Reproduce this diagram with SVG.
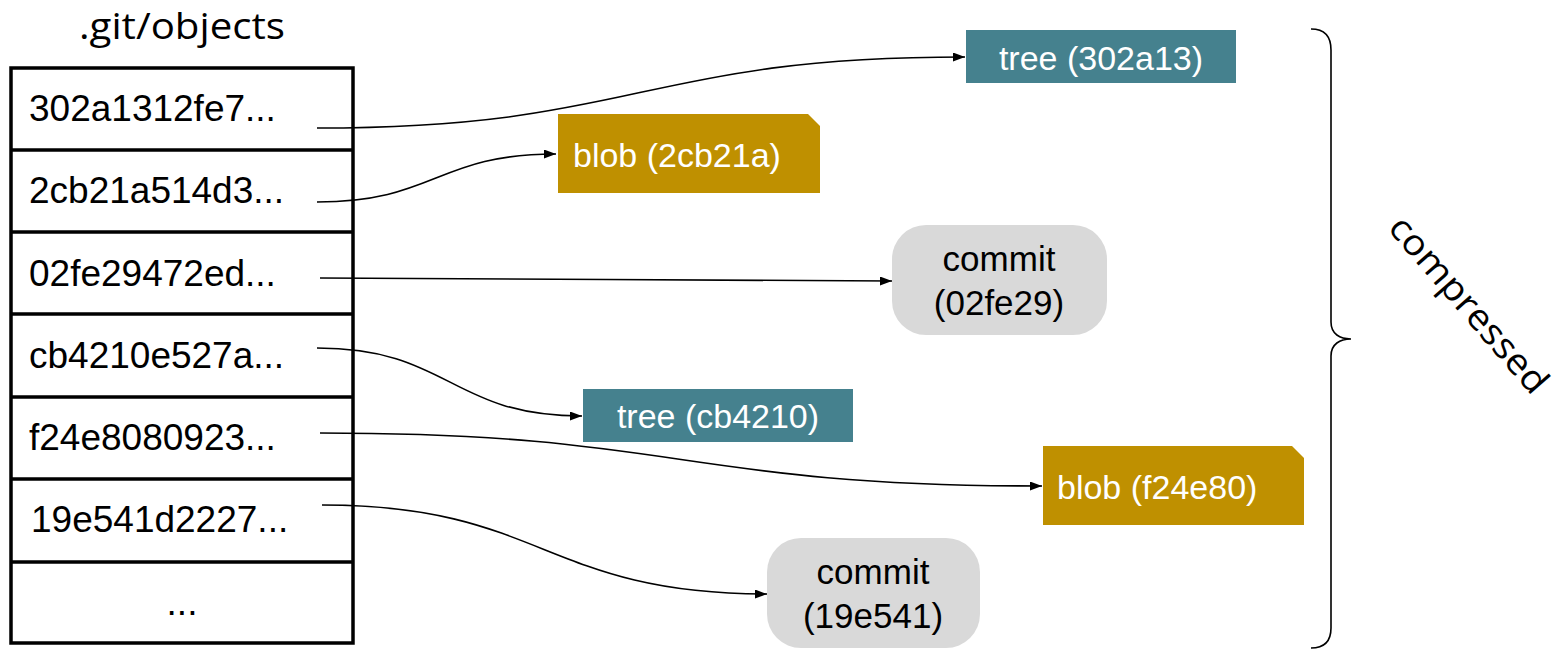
<svg xmlns="http://www.w3.org/2000/svg" width="1558" height="649" viewBox="0 0 1558 649">
<style>
.title{font-family:"Open Sans","Liberation Sans",sans-serif;font-size:36px;fill:#000}
.row{font-family:"Liberation Sans",Arial,sans-serif;font-size:37px;fill:#000}
.lbl{font-family:"Liberation Sans",Arial,sans-serif;font-size:34px;fill:#fff}
.clbl{font-family:"Liberation Sans",Arial,sans-serif;font-size:35px;fill:#000;text-anchor:middle}
.tree{fill:#45818e}
.blob{fill:#bf9000}
.commit{fill:#d9d9d9}
.conn{fill:none;stroke:#000;stroke-width:1.6;marker-end:url(#arr)}
.tbl{fill:none;stroke:#000;stroke-width:3.5}
</style>
<defs>
<marker id="arr" markerUnits="userSpaceOnUse" markerWidth="14" markerHeight="10" refX="12" refY="4.5" orient="auto">
<path d="M0,0 L12,4.5 L0,9 z" fill="#000"/>
</marker>
</defs>
<rect width="1558" height="649" fill="#fff"/>

<g id="objects-table">
<text class="title" x="182" y="39" text-anchor="middle" textLength="206" lengthAdjust="spacingAndGlyphs">.git/objects</text>
<rect class="tbl" x="11" y="68" width="342" height="575"/>
<line class="tbl" x1="11" y1="150" x2="353" y2="150"/>
<line class="tbl" x1="11" y1="232" x2="353" y2="232"/>
<line class="tbl" x1="11" y1="314" x2="353" y2="314"/>
<line class="tbl" x1="11" y1="397" x2="353" y2="397"/>
<line class="tbl" x1="11" y1="479" x2="353" y2="479"/>
<line class="tbl" x1="11" y1="562" x2="353" y2="562"/>
<text class="row" x="29" y="121">302a1312fe7...</text>
<text class="row" x="29" y="203">2cb21a514d3...</text>
<text class="row" x="29" y="286">02fe29472ed...</text>
<text class="row" x="29" y="368">cb4210e527a...</text>
<text class="row" x="29" y="450">f24e8080923...</text>
<text class="row" x="31" y="532">19e541d2227...</text>
<text class="row" x="182" y="615" text-anchor="middle">...</text>
</g>

<g id="connectors">
<path class="conn" d="M317,128 C640,128 640,57 965,57"/>
<path class="conn" d="M317,202 C436,202 436,154 556,154"/>
<path class="conn" d="M320,278 C606,278 606,281 892,281"/>
<path class="conn" d="M317,348 C450,348 450,416 582,416"/>
<path class="conn" d="M320,433 C681,433 681,486 1042,486"/>
<path class="conn" d="M322,505 C544,505 544,594 767,594"/>
</g>

<g id="tree-302a13">
<rect class="tree" x="966" y="30" width="270" height="53"/>
<text class="lbl" x="1101" y="70" text-anchor="middle">tree (302a13)</text>
</g>

<g id="blob-2cb21a">
<path class="blob" d="M558,114 L808,114 L820,126 L820,193 L558,193 z"/>
<text class="lbl" x="573" y="167">blob (2cb21a)</text>
</g>

<g id="commit-02fe29">
<rect class="commit" x="892" y="225" width="215" height="110" rx="34" ry="34"/>
<text class="clbl" x="999" y="271">commit</text>
<text class="clbl" x="999" y="315">(02fe29)</text>
</g>

<g id="tree-cb4210">
<rect class="tree" x="583" y="389" width="270" height="53"/>
<text class="lbl" x="718" y="428" text-anchor="middle">tree (cb4210)</text>
</g>

<g id="blob-f24e80">
<path class="blob" d="M1043,446 L1292,446 L1304,458 L1304,525 L1043,525 z"/>
<text class="lbl" x="1057" y="499">blob (f24e80)</text>
</g>

<g id="commit-19e541">
<rect class="commit" x="767" y="538" width="213" height="110" rx="34" ry="34"/>
<text class="clbl" x="873" y="584">commit</text>
<text class="clbl" x="873" y="628">(19e541)</text>
</g>

<g id="compressed-brace">
<path d="M1311,29 C1324,29 1331,36 1331,50 L1331,322 C1331,334 1340,339 1351,339 C1340,339 1331,344 1331,356 L1331,628 C1331,641 1324,648 1311,648" fill="none" stroke="#000" stroke-width="1.6"/>
<text class="title" transform="translate(1467,306) rotate(49)" x="0" y="10" text-anchor="middle" textLength="222" lengthAdjust="spacingAndGlyphs">compressed</text>
</g>
</svg>
